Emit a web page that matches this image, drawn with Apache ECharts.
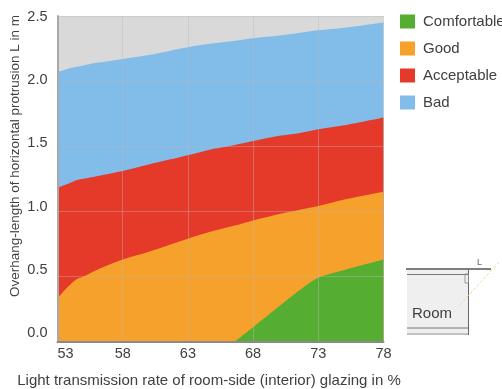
<!DOCTYPE html>
<html><head><meta charset="utf-8">
<style>html,body{margin:0;padding:0;background:#fff;overflow:hidden}#c{width:502px;height:389px}</style>
<script src="https://cdn.jsdelivr.net/npm/echarts@6/dist/echarts.min.js"></script>
</head><body><div id="c"></div>
<script>
const transmission = [53,53.5,54,54.5,55,56,58,60,63,65,66.6,68,70,71.5,73,75,78];
const badTop =        [2.07,2.085,2.10,2.11,2.12,2.14,2.17,2.20,2.26,2.29,2.31,2.33,2.35,2.37,2.39,2.41,2.45];
const acceptableTop = [1.18,1.20,1.22,1.24,1.25,1.27,1.31,1.36,1.43,1.48,1.51,1.54,1.58,1.60,1.63,1.66,1.72];
const goodTop =       [0.33,0.39,0.44,0.48,0.50,0.55,0.63,0.69,0.79,0.85,0.89,0.93,0.98,1.01,1.04,1.09,1.15];
const comfortableTop =[null,null,null,null,null,null,null,null,null,null,0,0.11,0.27,0.39,0.49,0.55,0.63];
const xTicks = {min:53,max:78,interval:5};
const yTicks = {min:0,max:2.5,interval:0.5};
const names = ['Comfortable','Good','Acceptable','Bad'];
const colors = {Comfortable:'#55ad32',Good:'#f5a12b',Acceptable:'#e5392a',Bad:'#82bce8'};
const textCol = '#404040';
const font = 'Liberation Sans, Arial, sans-serif';

function area(name, vals, z){
  return {name, type:'line', xAxisIndex:0, yAxisIndex:0, z,
    data: transmission.map((x,i)=>[x,vals[i]]),
    showSymbol:false, smooth:0.3, lineStyle:{width:0},
    itemStyle:{color:colors[name]},
    areaStyle:{color:colors[name],opacity:1}, silent:true};
}
const chart = echarts.init(document.getElementById('c'),null,{renderer:'canvas'});
const gridLine = {show:true,lineStyle:{color:'rgba(185,185,185,0.4)',width:1}};
chart.setOption({
  animation:false, backgroundColor:'#fff',
  grid:[
    {left:57.5,right:118.5,top:16,height:325.5,show:true,backgroundColor:'#d9d9d9',borderWidth:0,outerBoundsMode:'none'},
    {left:57.5,right:118.5,top:17,height:316,show:false,outerBoundsMode:'none'}
  ],
  xAxis:[
    {type:'value',gridIndex:0,...xTicks,z:5,
     axisLine:{show:true,onZero:false,lineStyle:{color:'#8a8a8a',width:2}},axisTick:{show:false},splitLine:gridLine,
     axisLabel:{color:textCol,fontSize:14.5,fontFamily:font,margin:5,alignMinLabel:'left'},
     name:'Light transmission rate of room-side (interior) glazing in %',nameLocation:'middle',nameGap:32,
     nameTextStyle:{color:textCol,fontSize:15,fontFamily:font,padding:[0,23,0,0]}},
    {type:'value',gridIndex:1,min:0,max:1,show:false}
  ],
  yAxis:[
    {type:'value',gridIndex:0,...yTicks,z:5,
     axisLine:{show:true,onZero:false,lineStyle:{color:'#a8a8a8',width:2}},axisTick:{show:false},splitLine:gridLine,
     axisLabel:{show:false}},
    {type:'value',gridIndex:1,...yTicks,
     axisLine:{show:false},axisTick:{show:false},splitLine:{show:false},
     axisLabel:{color:textCol,fontSize:14.5,fontFamily:font,margin:10,formatter:v=>v.toFixed(1)},
     name:'Overhang-length of horizontal protrusion L in m',nameLocation:'middle',nameGap:35,nameMoveOverlap:false,
     nameTextStyle:{color:textCol,fontSize:13.5,fontFamily:font,padding:[0,0,0,38]}}
  ],
  legend:{orient:'vertical',left:395,top:9,itemWidth:15,itemHeight:14,itemGap:12,icon:'rect',data:names,
    textStyle:{color:textCol,fontSize:15,fontFamily:font,padding:[0,0,0,3]},selectedMode:false},
  series:[area('Bad',badTop,2),area('Acceptable',acceptableTop,3),area('Good',goodTop,4),area('Comfortable',comfortableTop,4.5)],
  graphic:[{type:'group',silent:true,children:[
    {type:'rect',shape:{x:407,y:270,width:61,height:63},style:{fill:'#efefef'}},
    {type:'line',shape:{x1:406,y1:269,x2:491,y2:269},style:{stroke:'#555',lineWidth:1.5}},
    {type:'line',shape:{x1:407,y1:274.5,x2:468,y2:274.5},style:{stroke:'#777',lineWidth:1}},
    {type:'line',shape:{x1:407,y1:328,x2:468,y2:328},style:{stroke:'#777',lineWidth:1}},
    {type:'line',shape:{x1:407,y1:334,x2:469,y2:334},style:{stroke:'#888',lineWidth:1.2}},
    {type:'line',shape:{x1:468.5,y1:269,x2:468.5,y2:335},style:{stroke:'#666',lineWidth:1}},
    {type:'rect',shape:{x:465,y:274,width:3.5,height:9},style:{fill:'none',stroke:'#888',lineWidth:0.8}},
    {type:'line',shape:{x1:499,y1:262,x2:458,y2:307},style:{stroke:'#f5d890',lineWidth:1,lineDash:[3,2]}},
    {type:'text',x:477,y:258,style:{text:'L',fill:'#666',fontSize:9,fontFamily:font}},
    {type:'text',x:412,y:306,style:{text:'Room',fill:textCol,fontSize:15,fontFamily:font}}
  ]}]
});
</script></body></html>
